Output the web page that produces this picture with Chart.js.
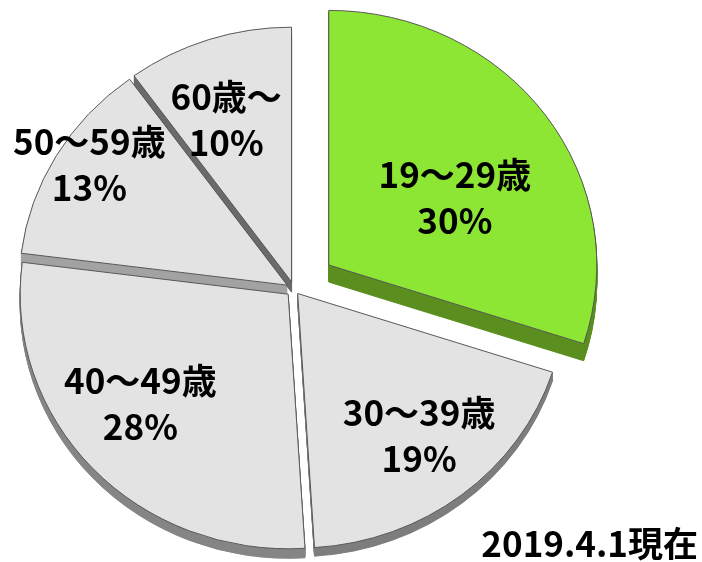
<!DOCTYPE html>
<html lang="ja">
<head>
  <meta charset="UTF-8">
  <meta name="viewport" content="width=device-width, initial-scale=1.0">
  <title>年齢構成</title>
  <script src="https://cdn.jsdelivr.net/npm/chart.js"></script>
  <style>
    body { margin: 0; background: #fff; }
  </style>
</head>
<body>
  <canvas id="ageChart" width="702" height="562"></canvas>

  <script>
    // datos del gráfico
    const ageGroups = ['19～29歳', '30～39歳', '40～49歳', '50～59歳', '60歳～'];
    const shares = [30, 19, 28, 13, 10];
    const asOfLabel = '2019.4.1現在';

    // estilos (colores de la cara superior y del lateral 3D)
    const topColors = ['#8de634', '#e3e3e3', '#e3e3e3', '#e3e3e3', '#e3e3e3'];
    const sideColors = ['#5a8f1f', '#7d7d7d', '#858585', '#a2a2a2', '#6a6a6a'];
    const explode = [43, 6, 8, 8, 8];      // separación de cada porción (px)
    const depth = [18, 9, 10, 13, 11];     // grosor del lateral (px)
    const squash = 0.95;                   // inclinación: la tarta se ve algo achatada
    const labelRadius = [0.54, 0.72, 0.70, 0.876, 0.68];
    const labelTurn = [6.6, -1.2, 5.2, 2, -3];  // giro de la etiqueta (grados)
    const labelFont = 'bold 35px "Noto Sans CJK JP", "Noto Sans", sans-serif';

    function explodeVector(arc, i) {
      const mid = (arc.startAngle + arc.endAngle) / 2;
      return { dx: Math.cos(mid) * explode[i], dy: Math.sin(mid) * explode[i] };
    }

    // dibuja la tarta "3D": primero los laterales, luego las caras
    const pie3d = {
      id: 'pie3d',
      beforeDatasetsDraw(chart) {
        const ctx = chart.ctx;
        const arcs = chart.getDatasetMeta(0).data;
        const cx = arcs[0].x, cy = arcs[0].y;

        ctx.save();
        ctx.translate(cx, cy);
        ctx.scale(1, squash);
        ctx.translate(-cx, -cy);

        arcs.forEach((arc, i) => {
          const v = explodeVector(arc, i);
          const side = Object.create(arc);
          side.options = Object.assign({}, arc.options, {
            backgroundColor: sideColors[i],
            borderColor: sideColors[i]
          });
          for (let d = 1; d <= depth[i]; d++) {
            ctx.save();
            ctx.translate(v.dx, v.dy + d);
            side.draw(ctx);
            ctx.restore();
          }
        });

        arcs.forEach((arc, i) => {
          const v = explodeVector(arc, i);
          ctx.save();
          ctx.translate(v.dx, v.dy);
          arc.draw(ctx);
          ctx.restore();
        });

        ctx.restore();
        return false; // ya dibujado
      },
      afterDraw(chart) {
        const ctx = chart.ctx;
        const arcs = chart.getDatasetMeta(0).data;
        ctx.save();
        ctx.fillStyle = '#000';
        ctx.font = labelFont;
        ctx.textAlign = 'center';
        ctx.textBaseline = 'middle';
        arcs.forEach((arc, i) => {
          const v = explodeVector(arc, i);
          const ang = (arc.startAngle + arc.endAngle) / 2 + labelTurn[i] * Math.PI / 180;
          const r = arc.outerRadius * labelRadius[i];
          const x = arc.x + v.dx + Math.cos(ang) * r;
          const y = arc.y + (v.dy + Math.sin(ang) * r) * squash;
          ctx.fillText(ageGroups[i], x, y - 23);
          ctx.fillText(shares[i] + '%', x, y + 23);
        });
        ctx.textAlign = 'right';
        ctx.textBaseline = 'alphabetic';
        ctx.fillText(asOfLabel, 698, 557);
        ctx.restore();
      }
    };

    const ctx = document.getElementById('ageChart').getContext('2d');
    const ageChart = new Chart(ctx, {
      type: 'pie',
      data: {
        labels: ageGroups,
        datasets: [{
          data: shares,
          backgroundColor: topColors,
          borderColor: '#555',
          borderWidth: 1,
          radius: 268
        }]
      },
      options: {
        responsive: false,
        animation: false,
        events: [],
        layout: { padding: { left: 0, right: 114, top: 16, bottom: 0 } },
        plugins: {
          legend: { display: false },
          tooltip: { enabled: false }
        }
      },
      plugins: [pie3d]
    });
  </script>
</body>
</html>
